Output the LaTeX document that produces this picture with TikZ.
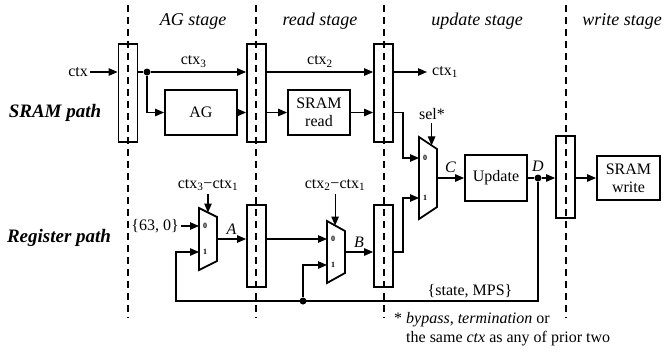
\documentclass[tikz,border=0pt]{standalone}
\usepackage{fontspec}
\setmainfont{Liberation Serif}
\usetikzlibrary{arrows.meta,calc,positioning}

\tikzset{
  wire/.style={line width=1.1pt},
  box/.style={draw, line width=1.8pt, align=center, inner sep=0pt},
  reg/.style={draw, line width=1.8pt, minimum width=19pt, inner sep=0pt},
  muxline/.style={line width=1.8pt, line join=miter},
  dot/.style={circle, fill, inner sep=0pt, minimum size=7pt},
  stageline/.style={line width=1.5pt, dash pattern=on 7pt off 5pt},
  stagelbl/.style={font=\fontsize{18}{20}\selectfont\itshape},
  pathlbl/.style={font=\fontsize{19}{21}\selectfont\bfseries\itshape},
  bitlbl/.style={font=\fontsize{8}{9}\selectfont\bfseries, inner sep=0pt},
}

% name, left x, centre y, half height left, half height right, input offset
\newcommand{\drawmux}[6]{%
  \coordinate (#1tl) at (#2,#3-#4);
  \coordinate (#1bl) at (#2,#3+#4);
  \coordinate (#1tr) at (#2+18,#3-#5);
  \coordinate (#1br) at (#2+18,#3+#5);
  \coordinate (#1out) at (#2+18,#3);
  \coordinate (#1in0) at (#2,#3-#6);
  \coordinate (#1in1) at (#2,#3+#6);
  \draw[muxline] (#1tl) -- (#1tr) -- (#1br) -- (#1bl) -- cycle;
  \node[bitlbl] (#1zero) at (#2+6,#3-#6) {0};
  \node[bitlbl] (#1one) at (#2+6,#3+#6) {1};
}

\begin{document}
\begin{tikzpicture}[x=1pt, y=-1pt, >={Triangle[length=9pt,width=7.5pt]},
    every node/.style={font=\fontsize{16}{18}\selectfont}]
  \useasboundingbox (0,0) rectangle (672,354);

  % stage boundaries
  \foreach \x in {128,256,384,566} {
    \draw[stageline] (\x,5) -- (\x,318);
  }
  \node[stagelbl] (stAG) at (193,21) {AG stage};
  \node[stagelbl] (stRead) at (320,21) {read stage};
  \node[stagelbl] (stUpd) at (477,21) {update stage};
  \node[stagelbl] (stWr) at (622,21) {write stage};

  \node[pathlbl] (pSRAM) at (55,113) {SRAM path};
  \node[pathlbl] (pReg) at (59,238) {Register path};

  % pipeline registers
  \node[reg, minimum height=98pt] (r1) at (128,93) {};
  \node[reg, minimum height=98pt] (r2) at (256.5,93) {};
  \node[reg, minimum height=98pt] (r3) at (383.5,93) {};
  \node[reg, minimum height=82pt] (r4) at (256.5,246) {};
  \node[reg, minimum height=82pt] (r5) at (383.5,246) {};
  \node[reg, minimum height=82pt] (r6) at (565.5,177) {};

  % blocks
  \node[box, minimum width=72pt, minimum height=45pt] (ag) at (201,112.5) {AG};
  \node[box, minimum width=62pt, minimum height=45pt] (rd) at (319,112.5) {SRAM\\read};
  \node[box, minimum width=62pt, minimum height=46pt] (upd) at (496,178) {Update};
  \node[box, minimum width=63pt, minimum height=44pt] (wr) at (628.5,178) {SRAM\\write};

  % multiplexers
  \drawmux{mA}{199}{239}{31}{22}{13}
  \drawmux{mB}{327}{252}{31}{21}{13}
  \drawmux{mC}{419}{178}{41}{29}{20}
  \coordinate (mAsel) at ($(mAtl)!0.5!(mAtr)$);
  \coordinate (mBsel) at ($(mBtl)!0.45!(mBtr)$);
  \coordinate (mCsel) at ($(mCtl)!0.7!(mCtr)$);
  \coordinate (bendC) at (403,0);

  % SRAM path
  \node[anchor=east, inner sep=2pt] (ctx) at (90,72) {ctx};
  \node[dot] (j1) at (147,72) {};
  \node[anchor=west, inner sep=5pt] (ctx1) at (427,72) {ctx\textsubscript{1}};
  \draw[wire,->] (ctx.east) -- (ctx.east -| r1.west);
  \draw[wire] (j1 -| r1.east) -- (j1);
  \draw[wire,->] (j1) -- (j1 -| r2.west) node[pos=0.45, above=1pt] {ctx\textsubscript{3}};
  \draw[wire,->] (j1) |- (ag.west);
  \draw[wire,->] (ag) -- (ag -| r2.west);
  \draw[wire,->] (ag -| r2.east) -- (rd);
  \draw[wire,->] (j1 -| r2.east) -- (j1 -| r3.west) node[midway, above=1pt] {ctx\textsubscript{2}};
  \draw[wire,->] (rd) -- (rd -| r3.west);
  \draw[wire,->] (j1 -| r3.east) -- (ctx1);
  \draw[wire,->] (rd -| r3.east) -- (rd -| bendC) -- (bendC |- mCin0) -- (mCin0);

  % update and write
  \node (sel) at (432,114) {sel*};
  \draw[wire,->] (sel.south -| mCsel) -- (mCsel);
  \node[dot] (jD) at (538,178) {};
  \node[above=3pt of jD, inner sep=0pt] (lblD) {\textit{D}};
  \draw[wire,->] (mCout) -- (upd) node[midway, above=1pt] {\textit{C}};
  \draw[wire] (upd) -- (jD);
  \draw[wire,->] (jD) -- (jD -| r6.west);
  \draw[wire,->] (jD -| r6.east) -- (wr);

  % register path
  \node[anchor=east, inner sep=2pt] (cst) at (181,226) {\{63, 0\}};
  \node (selA) at (208,185) {ctx\textsubscript{3}−ctx\textsubscript{1}};
  \node (selB) at (335,185) {ctx\textsubscript{2}−ctx\textsubscript{1}};
  \draw[wire,->] (cst) -- (mAin0);
  \draw[wire,->] (selA.south -| mAsel) -- (mAsel);
  \draw[wire,->] (selB.south -| mBsel) -- (mBsel);
  \draw[wire,->] (mAout) -- (mAout -| r4.west) node[midway, above=1pt] {\textit{A}};
  \draw[wire,->] (mAout -| r4.east) -- (mBin0);
  \draw[wire,->] (mBout) -- (mBout -| r5.west) node[midway, above=1pt] {\textit{B}};
  \draw[wire,->] (mBout -| r5.east) -- (mBout -| bendC) -- (bendC |- mCin1) -- (mCin1);

  % feedback of the updated state
  \coordinate (fbL) at (176,301);
  \node[dot] (jB) at (303,301) {};
  \draw[wire,->] (jD) -- (jD |- fbL) -- (fbL) -- (fbL |- mAin1) -- (mAin1);
  \draw[wire,->] (jB) |- (mBin1);
  \node[anchor=south, inner sep=2pt] (lblFb) at (470,300) {\{state, MPS\}};

  % footnote
  \node[anchor=west, inner sep=0pt] (fn1) at (394,320) {* \textit{bypass}, \textit{termination} or};
  \node[anchor=west, inner sep=0pt] (fn2) at (406,339) {the same \textit{ctx} as any of prior two};
\end{tikzpicture}
\end{document}
